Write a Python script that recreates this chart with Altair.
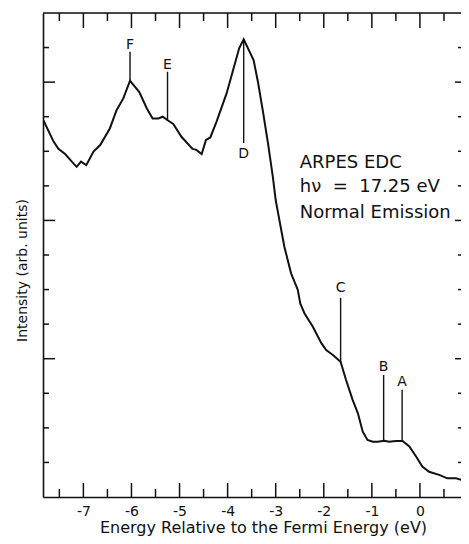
import altair as alt
import pandas as pd

# ---- data ----
energy = [-7.83, -7.62, -7.52, -7.38, -7.24, -7.14, -7.05, -6.94, -6.79, -6.65,
          -6.45, -6.31, -6.17, -6.03, -5.96, -5.84, -5.68, -5.56, -5.44, -5.35,
          -5.24, -5.13, -4.96, -4.73, -4.65, -4.54, -4.45, -4.36, -4.23, -4.02,
          -3.76, -3.666, -3.46, -3.37, -3.27, -3.16, -3.06, -3.0, -2.95, -2.82,
          -2.68, -2.54, -2.49, -2.40, -2.23, -2.05, -1.95, -1.81, -1.65, -1.54,
          -1.40, -1.29, -1.19, -1.09, -0.98, -0.88, -0.74, -0.64, -0.50, -0.36,
          -0.22, -0.08, 0.05, 0.19, 0.40, 0.57, 0.75, 0.88, 1.01]
intensity = [10.89, 10.28, 10.07, 9.92, 9.70, 9.55, 9.70, 9.60, 9.99, 10.18,
             10.66, 11.19, 11.53, 12.04, 11.92, 11.72, 11.24, 10.95, 10.95, 11.00,
             10.89, 10.79, 10.42, 10.07, 10.04, 9.92, 10.33, 10.40, 10.86, 11.68,
             12.98, 13.24, 12.64, 12.01, 11.19, 10.23, 9.27, 8.59, 8.21, 7.24,
             6.47, 5.99, 5.60, 5.31, 4.93, 4.45, 4.25, 4.11, 3.91, 3.40,
             2.81, 2.42, 1.89, 1.65, 1.60, 1.60, 1.63, 1.60, 1.62, 1.62,
             1.46, 1.17, 0.88, 0.73, 0.64, 0.54, 0.54, 0.49, 0.49]

peak_labels = ["F", "E", "D", "C", "B", "A"]
peak_energy = [-6.03, -5.25, -3.666, -1.65, -0.755, -0.37]
peak_line_from = [12.04, 10.89, 13.24, 3.91, 1.63, 1.62]
peak_line_to = [12.88, 12.30, 10.24, 5.76, 3.53, 3.10]
peak_label_y = [13.07, 12.50, 9.92, 6.05, 3.77, 3.33]

x_major = [-7, -6, -5, -4, -3, -2, -1, 0]
x_minor = [-7.5, -6.5, -5.5, -4.5, -3.5, -2.5, -1.5, -0.5, 0.5]
y_major = [4, 8, 12]
y_minor = [1, 2, 3, 5, 6, 7, 9, 10, 11, 13]

notes = ["ARPES EDC", "h\u03bd\u00a0\u00a0=\u00a0\u00a017.25 eV", "Normal Emission"]
note_y = [9.66, 8.97, 8.22]
note_x = -2.50

# ---- layout ----
W, H = 418, 484
FONT = "DejaVu Sans"
INK = "#111111"
XTITLE = "Energy Relative to the Fermi Energy (eV)"
YTITLE = "Intensity (arb. units)"

xs = alt.Scale(domain=[-7.84, 0.854], nice=False, zero=False)
ys = alt.Scale(domain=[0, 14], nice=False, zero=False)

xaxis = alt.Axis(values=x_major, ticks=False, grid=False, domain=True,
                 domainColor=INK, domainWidth=1.6,
                 labelExpr="toString(datum.value)", labelFont=FONT,
                 labelFontSize=14, labelColor=INK, labelPadding=7,
                 labelFlush=False, labelOverlap=False,
                 titleFont=FONT, titleFontSize=16, titleFontWeight="normal",
                 titleColor=INK, titlePadding=1, titleX=220, titleAlign="center")
yaxis = alt.Axis(ticks=False, labels=False, grid=False, domain=True,
                 domainColor=INK, domainWidth=1.6,
                 titleFont=FONT, titleFontSize=14, titleFontWeight="normal",
                 titleColor=INK, titleAngle=270, titleBaseline="alphabetic",
                 titleX=-17, titleY=257, titleAlign="center")


def X(field):
    return alt.X(field, scale=xs, axis=xaxis, title=XTITLE)


def Y(field):
    return alt.Y(field, scale=ys, axis=yaxis, title=YTITLE)


curve_df = pd.DataFrame({"e": energy, "i": intensity})
peaks_df = pd.DataFrame({"lab": peak_labels, "e": peak_energy,
                         "y0": peak_line_from, "y1": peak_line_to, "ly": peak_label_y})
notes_df = pd.DataFrame({"t": notes, "y": note_y, "x": [note_x] * len(notes)})

curve = alt.Chart(curve_df).mark_line(color=INK, strokeWidth=2, clip=True).encode(
    x=X("e:Q"), y=Y("i:Q"))


def xrule(vals, y0, y1):
    return alt.Chart(pd.DataFrame({"v": vals})).mark_rule(color=INK, strokeWidth=1.5).encode(
        x=X("v:Q"), y=alt.value(y0), y2=alt.value(y1))


def yrule(vals, x0, x1):
    return alt.Chart(pd.DataFrame({"v": vals})).mark_rule(color=INK, strokeWidth=1.5).encode(
        y=Y("v:Q"), x=alt.value(x0), x2=alt.value(x1))


ticks = [
    xrule(x_major, H, H - 14), xrule(x_minor, H, H - 8),
    xrule(x_major, 0, 15), xrule(x_minor, 0, 8),
    yrule(y_major, 0, 12), yrule(y_minor, 0, 6),
    yrule(y_major, W, W - 6), yrule(y_minor, W, W - 3),
]

top_line = alt.Chart(pd.DataFrame({"k": [0]})).mark_rule(color=INK, strokeWidth=1.6).encode(
    x=alt.value(0), x2=alt.value(W), y=alt.value(0))

peak_lines = alt.Chart(peaks_df).mark_rule(color=INK, strokeWidth=1.4).encode(
    x=X("e:Q"), y=Y("y0:Q"), y2="y1:Q")

peak_text = alt.Chart(peaks_df).mark_text(font=FONT, fontSize=14, color=INK,
                                          baseline="middle", align="center").encode(
    x=X("e:Q"), y=Y("ly:Q"), text="lab:N")

note_text = alt.Chart(notes_df).mark_text(font=FONT, fontSize=18, color=INK,
                                          baseline="middle", align="left").encode(
    x=X("x:Q"), y=Y("y:Q"), text="t:N")

chart = alt.layer(curve, *ticks, top_line, peak_lines, peak_text, note_text).properties(
    width=W, height=H,
    autosize=alt.AutoSizeParams(type="none"),
    padding={"left": 35, "top": 5, "right": 0, "bottom": 39},
).configure_view(stroke=None).configure(background="white")

chart.save("out.html", embed_options={"renderer": "svg", "actions": False})
